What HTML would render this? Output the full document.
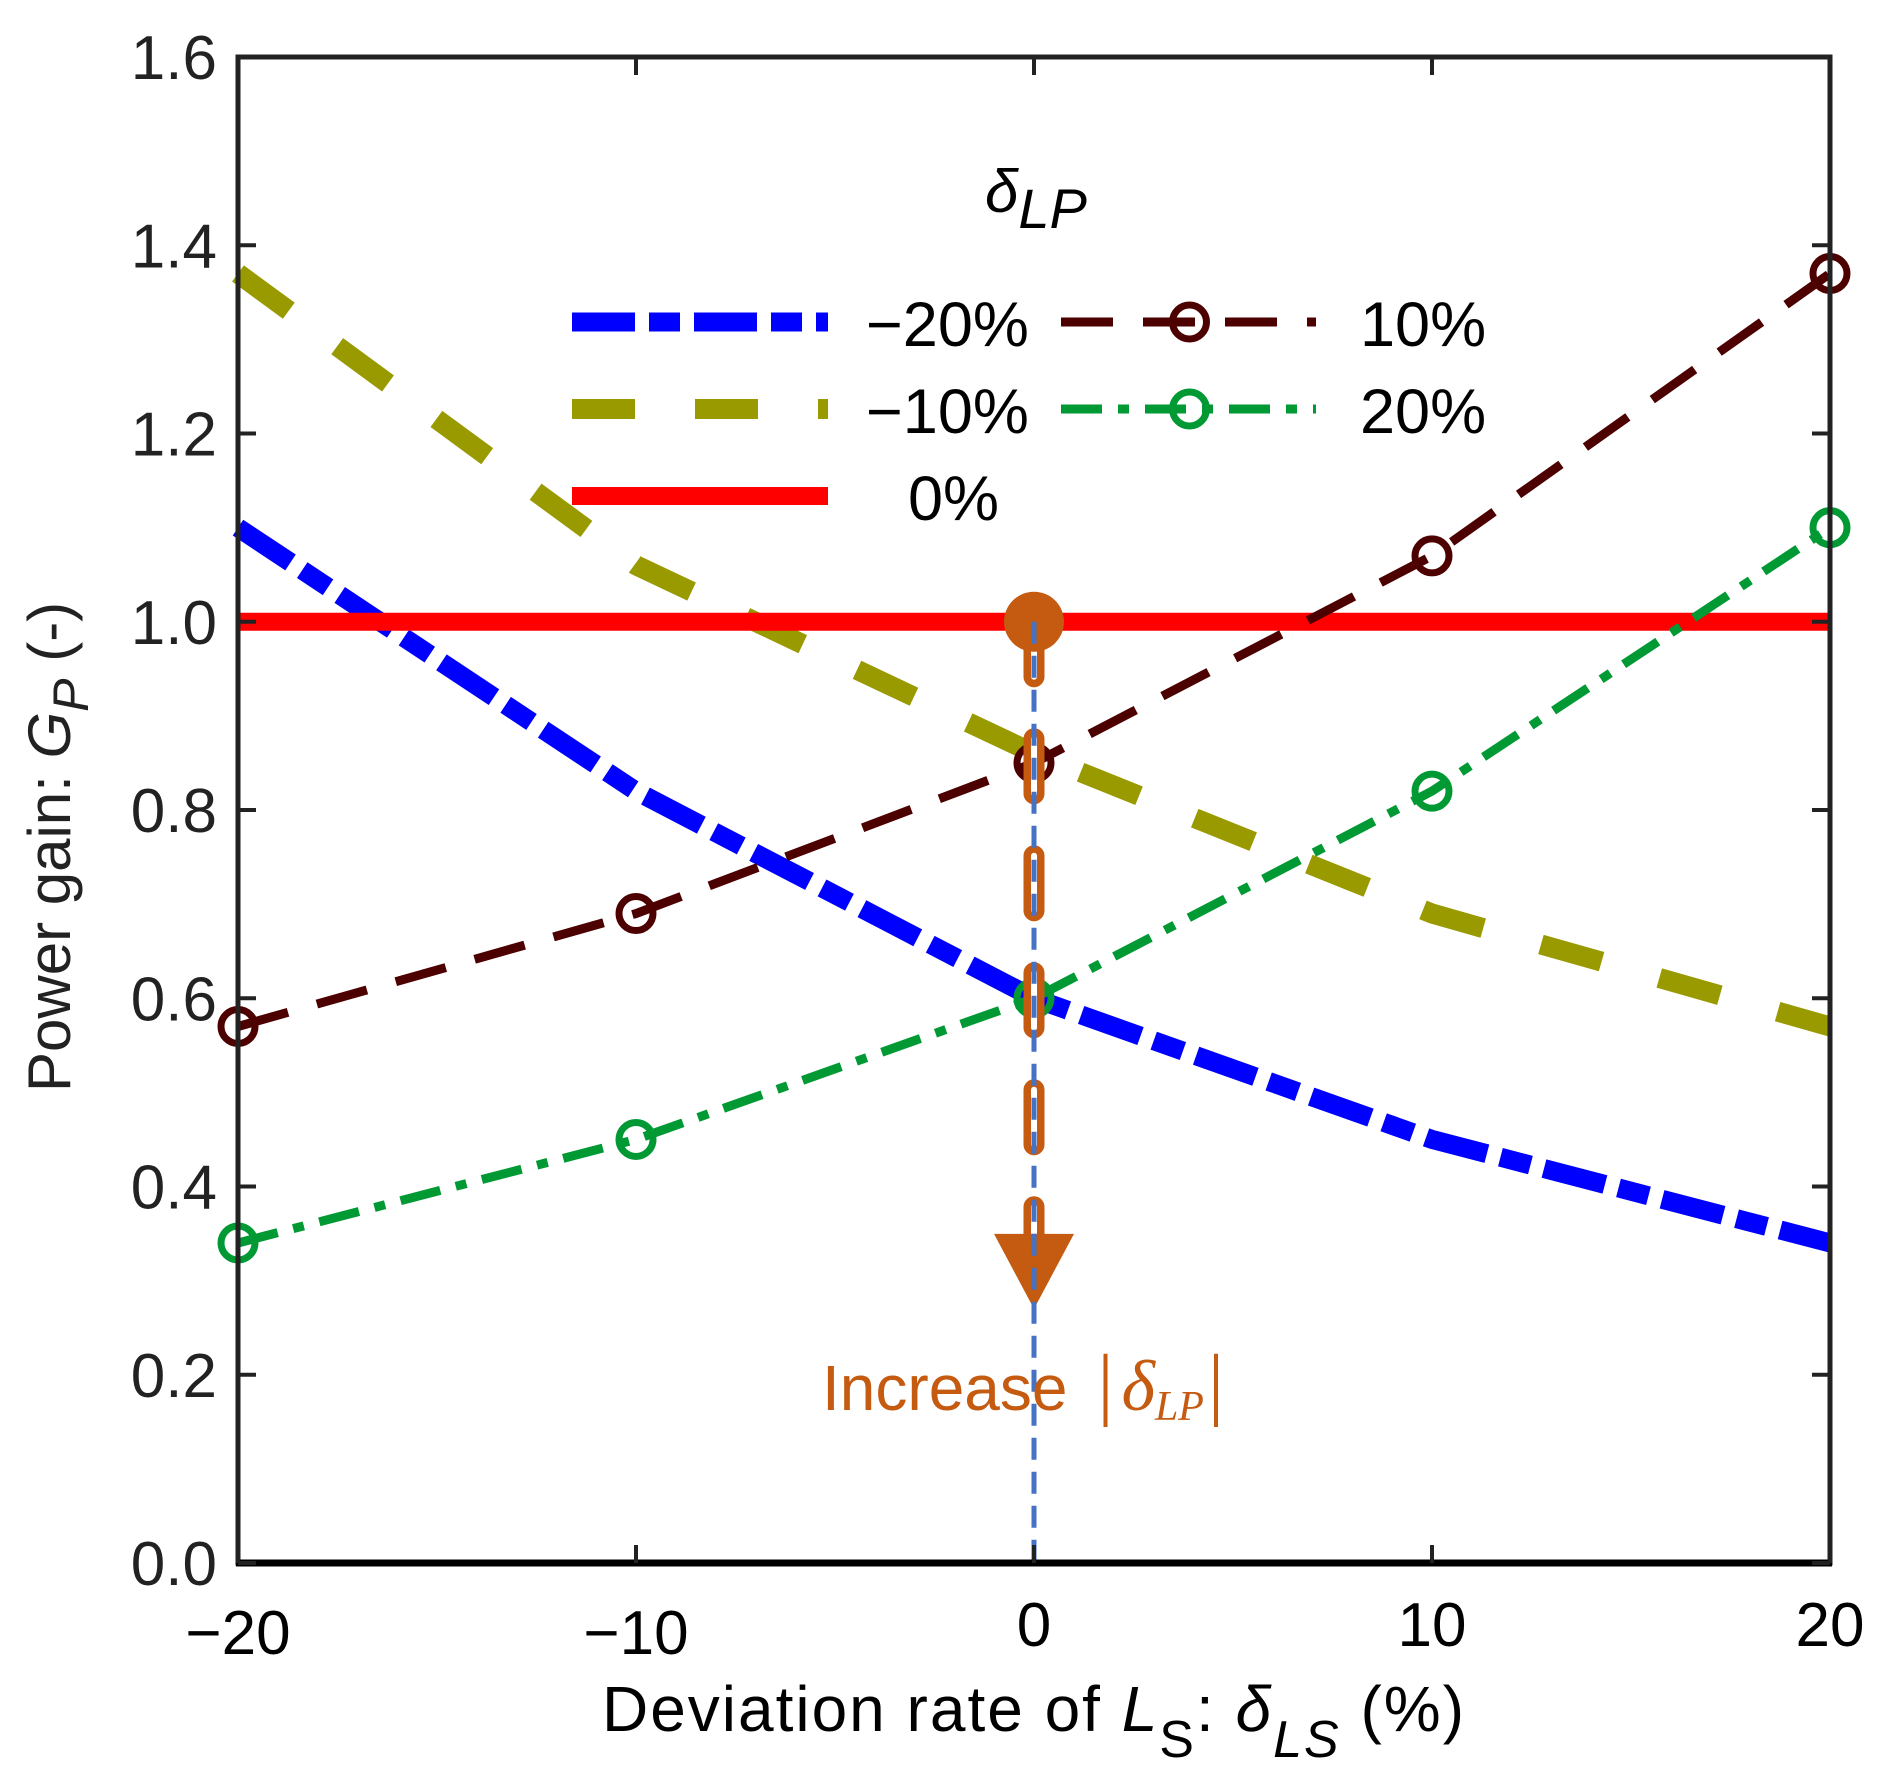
<!DOCTYPE html>
<html><head><meta charset="utf-8"><style>
html,body{margin:0;padding:0;background:#fff;}
svg{display:block;font-family:"Liberation Sans",Arial,sans-serif;}
</style></head><body>
<svg id="chart" width="1886" height="1785" viewBox="0 0 1886 1785" xmlns="http://www.w3.org/2000/svg">
<g id="plot"></g>
<g id="axes"></g>
<g id="legend"></g>
<text x="985" y="212" font-size="60" font-style="italic" fill="#000">δ<tspan font-size="56" dy="16">LP</tspan></text>
<text x="602" y="1731" font-size="64" fill="#000" textLength="862" lengthAdjust="spacing">Deviation rate of <tspan font-style="italic">L</tspan><tspan font-size="52" dy="26">S</tspan><tspan dy="-26">: </tspan><tspan font-style="italic">δ</tspan><tspan font-size="52" font-style="italic" dy="26">LS</tspan><tspan dy="-26"> (%)</tspan></text>
<text transform="translate(70,1092) rotate(-90)" font-size="60" fill="#222">Power gain: <tspan font-style="italic">G</tspan><tspan font-size="50" font-style="italic" dy="18">P</tspan><tspan dy="-18"> (-)</tspan></text>
<text x="822" y="1410" font-size="64" fill="#C55A11">Increase<tspan font-family="'Liberation Serif',serif" font-size="80" dx="30">|</tspan><tspan font-family="'Liberation Serif',serif" font-style="italic" font-size="72" dx="8">δ</tspan><tspan font-family="'Liberation Serif',serif" font-style="italic" font-size="42" dy="10">LP</tspan><tspan font-family="'Liberation Serif',serif" font-size="80" dy="-10" dx="4">|</tspan></text>
</svg>
<script>
const xCats = [-20, -10, 0, 10, 20];
const sNeg20 = [1.10, 0.82, 0.60, 0.45, 0.34];
const sNeg10 = [1.37, 1.06, 0.86, 0.69, 0.57];
const s0 = [1.0, 1.0, 1.0, 1.0, 1.0];
const s10 = [0.57, 0.69, 0.85, 1.07, 1.37];
const s20 = [0.34, 0.45, 0.60, 0.82, 1.10];
const xTicks = [-20, -10, 0, 10, 20];
const xTickLabels = ["\u221220", "\u221210", "0", "10", "20"];
const yTicks = [0, 0.2, 0.4, 0.6, 0.8, 1.0, 1.2, 1.4, 1.6];
const yTickLabels = ["0.0","0.2","0.4","0.6","0.8","1.0","1.2","1.4","1.6"];
const arrowStart = 1.0;
const arrowEnd = 0.27;

const L=238,R=1830,T=57,B=1563;
const X = v => L + (v + 20) / 40 * (R - L);
const Y = v => B - v / 1.6 * (B - T);
const NS="http://www.w3.org/2000/svg";
function mk(tag, attrs, parent){const e=document.createElementNS(NS,tag);for(const k in attrs)e.setAttribute(k,attrs[k]);parent.appendChild(e);return e;}
const plot=document.getElementById('plot'), axes=document.getElementById('axes'), legend=document.getElementById('legend');

const series=[
 {d:sNeg20,c:"#0000FF",w:19,dash:"63 14 31 14",name:"series-minus-20",m:false},
 {d:sNeg10,c:"#999900",w:20,dash:"63 60",name:"series-minus-10",m:false},
 {d:s0,c:"#FF0000",w:18,dash:"",name:"series-0",m:false},
 {d:s10,c:"#4D0000",w:9,dash:"52 30",name:"series-10",m:true},
 {d:s20,c:"#009933",w:9,dash:"41 16 11 16",name:"series-20",m:true}
];
series.forEach(s=>{
 const p=mk('polyline',{points:s.d.map((v,i)=>X(xCats[i])+','+Y(v)).join(' '),fill:'none',stroke:s.c,'stroke-width':s.w,'stroke-dasharray':s.dash},plot);
 
 
 if(s.m) s.d.forEach((v,i)=>{
  const c=mk('circle',{cx:X(xCats[i]),cy:Y(v),r:17,fill:'none',stroke:s.c,'stroke-width':7},plot);
  
  
 });
});
// arrow annotation
const ax=X(0);
const shaftEnd=Y(arrowEnd)-50;
let e=mk('line',{x1:ax,y1:Y(arrowStart),x2:ax,y2:shaftEnd,stroke:'#C55A11','stroke-width':21,'stroke-linecap':'round','stroke-dasharray':'55 62'},plot);


e=mk('line',{x1:ax,y1:Y(arrowStart),x2:ax,y2:shaftEnd,stroke:'#fff','stroke-width':6,'stroke-linecap':'round','stroke-dasharray':'55 62'},plot);


e=mk('circle',{cx:ax,cy:Y(arrowStart),r:30,fill:'#C55A11'},plot);


e=mk('polygon',{points:`${ax-40},${Y(arrowEnd)-75} ${ax+40},${Y(arrowEnd)-75} ${ax},${Y(arrowEnd)}`,fill:'#C55A11'},plot);


e=mk('line',{x1:ax,y1:Y(arrowStart),x2:ax,y2:B,stroke:'#4472C4','stroke-width':5,'stroke-dasharray':'22 12'},plot);



// axes frame
e=mk('rect',{x:L,y:T,width:R-L,height:B-T,fill:'none',stroke:'#222','stroke-width':5},axes);


mk('line',{x1:L-2,y1:B,x2:R+2,y2:B,stroke:'#000','stroke-width':7},axes);
xTicks.forEach((t,i)=>{
 mk('line',{x1:X(t),y1:B,x2:X(t),y2:B-18,stroke:'#222','stroke-width':4},axes);
 mk('line',{x1:X(t),y1:T,x2:X(t),y2:T+18,stroke:'#222','stroke-width':4},axes);
 const tx=mk('text',{x:X(t),y:t<0?1654:1646,'font-size':62,'text-anchor':'middle',fill:'#000'},axes);
 tx.textContent=xTickLabels[i];
 
 
});
yTicks.forEach((t,i)=>{
 mk('line',{x1:L,y1:Y(t),x2:L+18,y2:Y(t),stroke:'#222','stroke-width':4},axes);
 mk('line',{x1:R,y1:Y(t),x2:R-18,y2:Y(t),stroke:'#222','stroke-width':4},axes);
 const tx=mk('text',{x:217,y:Y(t)+22,'font-size':62,'text-anchor':'end',fill:'#222'},axes);
 tx.textContent=yTickLabels[i];
 
 
});

// legend
const leg=[
 {s:series[0],x1:572,x2:828,y:322,lab:"\u221220%",lx:866},
 {s:series[1],x1:572,x2:828,y:409,lab:"\u221210%",lx:866},
 {s:series[2],x1:572,x2:828,y:496,lab:"0%",lx:908},
 {s:series[3],x1:1061,x2:1316,y:322,lab:"10%",lx:1360},
 {s:series[4],x1:1061,x2:1316,y:409,lab:"20%",lx:1360}
];
leg.forEach(l=>{
 const g=mk('g',{},legend);
 
 
 mk('line',{x1:l.x1,y1:l.y,x2:l.x2,y2:l.y,stroke:l.s.c,'stroke-width':l.s.w,'stroke-dasharray':l.s.dash},g);
 if(l.s.m) mk('circle',{cx:(l.x1+l.x2)/2+1,cy:l.y,r:17,fill:'#fff','fill-opacity':0,stroke:l.s.c,'stroke-width':7},g);
 const t=mk('text',{x:l.lx,y:l.y+24,'font-size':63,fill:'#000'},g);
 t.textContent=l.lab;
});
</script>
</body></html>
